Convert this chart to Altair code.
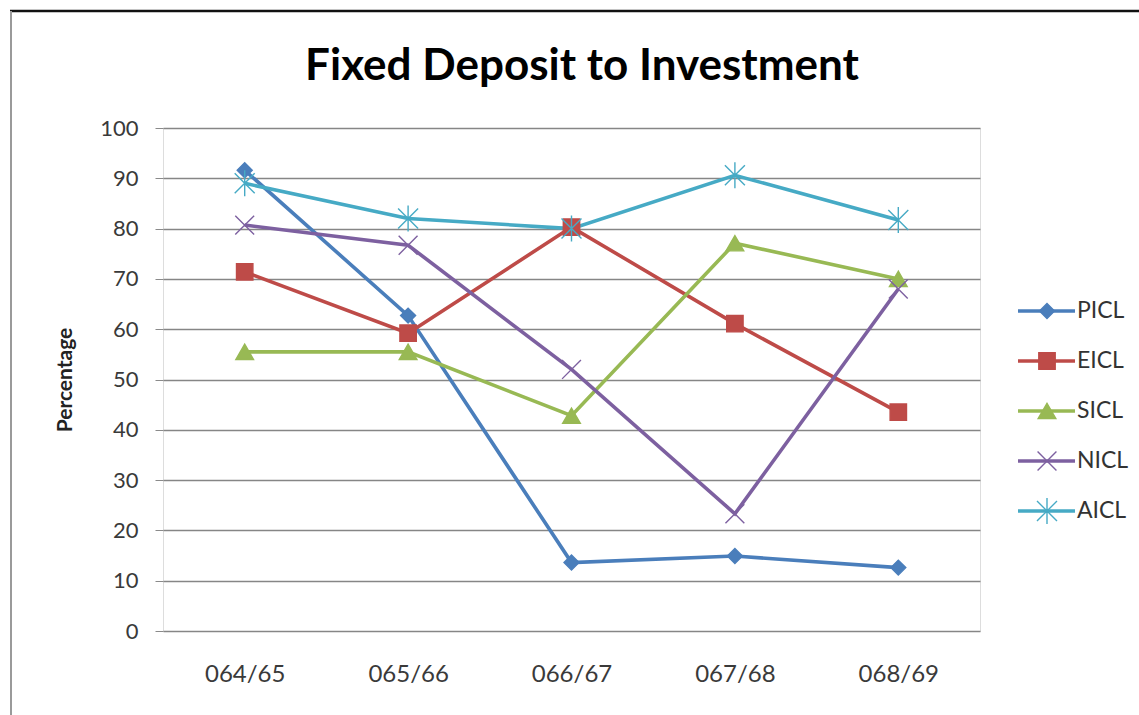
import altair as alt
import pandas as pd

title_text = "Fixed Deposit to Investment"
years = ["064/65", "065/66", "066/67", "067/68", "068/69"]
series = ["PICL", "EICL", "SICL", "NICL", "AICL"]
picl = [91.6, 62.7, 13.6, 14.9, 12.6]
eicl = [71.4, 59.2, 80.3, 61.1, 43.5]
sicl = [55.5, 55.5, 42.8, 77.1, 70.0]
nicl = [80.7, 76.7, 52.0, 23.3, 68.0]
aicl = [89.0, 82.0, 80.0, 90.6, 81.7]
y_ticks = [0, 10, 20, 30, 40, 50, 60, 70, 80, 90, 100]

colors = ["#4A7EBB", "#BE4B48", "#98B954", "#7D60A0", "#46AAC5"]
shapes = ["diamond", "square", "triangle-up",
          "M-1,-1L1,1M-1,1L1,-1",
          "M-1,-1L1,1M-1,1L1,-1M0,-1.3L0,1.3"]
sizes = [225, 400, 320, 250, 260]

values = {"PICL": picl, "EICL": eicl, "SICL": sicl, "NICL": nicl, "AICL": aicl}
rows = []
for s in series:
    for yr, v in zip(years, values[s]):
        rows.append({"series": s, "year": yr, "value": v})
df = pd.DataFrame(rows)
leg = pd.DataFrame({"series": series})

FONT = "Lato"
W, H = 817, 503

color = alt.Color("series:N", sort=series,
                  scale=alt.Scale(domain=series, range=colors), legend=None)
stroke = alt.Stroke("series:N", sort=series,
                    scale=alt.Scale(domain=series, range=colors), legend=None)
shape = alt.Shape("series:N", sort=series,
                  scale=alt.Scale(domain=series, range=shapes), legend=None)
size = alt.Size("series:N", sort=series,
                scale=alt.Scale(domain=series, range=sizes), legend=None)

x = alt.X("year:N", sort=years, title=None,
          scale=alt.Scale(type="point", padding=0.5),
          axis=alt.Axis(labelAngle=0, labelFontSize=24, labelFont=FONT,
                        labelColor="#3a3a3a", labelPadding=31, ticks=False,
                        domain=False, grid=False))
y = alt.Y("value:Q", title="Percentage",
          scale=alt.Scale(domain=[0, 100], nice=False, zero=True),
          axis=alt.Axis(values=y_ticks, labelFontSize=22, labelFont=FONT,
                        labelColor="#3a3a3a", labelPadding=17,
                        tickSize=8, tickColor="#8a8a8a", domain=False,
                        gridColor="#868686", gridWidth=1.3,
                        titleFont=FONT, titleFontSize=21, titleFontWeight="bold",
                        titleColor="#222222", titlePadding=24))

base = alt.Chart(df)
lines = base.mark_line(strokeWidth=3.6).encode(x=x, y=y, color=color)
points = base.mark_point(filled=True, strokeWidth=1.4, opacity=1).encode(
    x=x, y=y, fill=color, stroke=stroke, shape=shape, size=size)

main = alt.layer(lines, points)

ly = alt.Y("series:N", sort=series, axis=None,
           scale=alt.Scale(type="point", range=[183, 383], padding=0))
lbase = alt.Chart(leg)
lrule = lbase.mark_rule(strokeWidth=3.6).encode(
    y=ly, x=alt.value(855), x2=alt.value(912), color=color)
lpoint = lbase.mark_point(filled=True, strokeWidth=1.4, opacity=1).encode(
    y=ly, x=alt.value(884), fill=color, stroke=stroke, shape=shape, size=size)
ltext = lbase.mark_text(align="left", baseline="middle", fontSize=23,
                        font=FONT, color="#333333").encode(
    y=ly, x=alt.value(914), text="series:N")
legend = alt.layer(lrule, lpoint, ltext)

one = pd.DataFrame({"t": [title_text]})
title = alt.Chart(one).mark_text(font=FONT, fontSize=44, fontWeight="bold",
                                 color="#000000", align="center",
                                 baseline="alphabetic").encode(
    x=alt.value(419), y=alt.value(-48), text="t:N")

top_line = alt.Chart(one).mark_rule(color="#111111", strokeWidth=2.5).encode(
    x=alt.value(-153), x2=alt.value(1139 - 163), y=alt.value(-117))
left_line = alt.Chart(one).mark_rule(color="#9a9a9a", strokeWidth=2).encode(
    x=alt.value(-152), y=alt.value(-117), y2=alt.value(715 - 128))
frame = alt.layer(top_line, left_line, title)

chart = alt.layer(main, legend, frame).resolve_scale(y="independent").properties(
    width=W, height=H,
    autosize=alt.AutoSizeParams(type="none"),
    padding={"left": 163, "top": 128, "right": 1139 - 163 - W, "bottom": 715 - 128 - H},
).configure_view(stroke=None).configure(background="white")

chart.save("out.html", embed_options={"renderer": "svg", "actions": False})
